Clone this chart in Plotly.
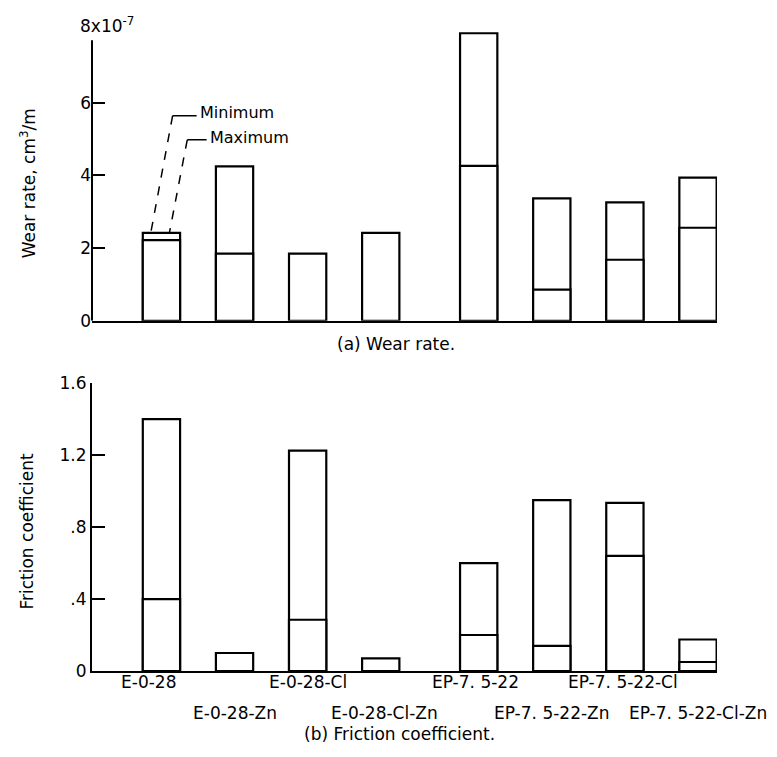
import plotly.graph_objects as go

categories = ["E-0-28", "E-0-28-Zn", "E-0-28-Cl", "E-0-28-Cl-Zn",
              "EP-7.5-22", "EP-7.5-22-Zn", "EP-7.5-22-Cl", "EP-7.5-22-Cl-Zn"]
category_labels = ["E-0-28", "E-0-28-Zn", "E-0-28-Cl", "E-0-28-Cl-Zn",
                   "EP-7. 5-22", "EP-7. 5-22-Zn", "EP-7. 5-22-Cl", "EP-7. 5-22-Cl-Zn"]
wear_max = [2.42, 4.25, 1.85, 2.42, 7.91, 3.37, 3.26, 3.94]
wear_min = [2.22, 1.85, None, None, 4.26, 0.86, 1.68, 2.56]
fric_max = [1.40, 0.10, 1.225, 0.07, 0.60, 0.95, 0.935, 0.175]
fric_min = [0.40, None, 0.285, None, 0.20, 0.14, 0.64, 0.05]
wear_ticks = [0, 2, 4, 6]
fric_ticks = [0, 0.4, 0.8, 1.2, 1.6]
fric_ticktext = ["0", ".4", ".8", "1.2", "1.6"]

FONT = "DejaVu Sans"
fs = 17
# group gap between E and EP series
xpos = [i + (0.34 if i >= 4 else 0) for i in range(len(categories))]
label_xshift = [-13, 0, 0, 4, -3, 0, -2, 0]
bw = 0.51
bar_style = dict(color="white", line=dict(color="black", width=2.2))

fig = go.Figure()
for ys in (wear_max, wear_min):
    fig.add_trace(go.Bar(x=xpos, y=ys, width=bw, marker=bar_style,
                         xaxis="x", yaxis="y", showlegend=False, hoverinfo="skip"))
for ys in (fric_max, fric_min):
    fig.add_trace(go.Bar(x=xpos, y=ys, width=bw, marker=bar_style,
                         xaxis="x2", yaxis="y2", showlegend=False, hoverinfo="skip"))

xr = [-0.95, 7.60]
axis_common = dict(linewidth=2, linecolor="black", zeroline=False, showgrid=False)
fig.update_layout(
    width=761, height=741,
    margin=dict(l=84, r=52, t=15, b=78),
    paper_bgcolor="white", plot_bgcolor="white",
    barmode="overlay",
    font=dict(family=FONT, size=fs, color="black"),
    xaxis=dict(domain=[0, 1], range=xr, anchor="y", showticklabels=False,
               ticks="", showline=True, **axis_common),
    yaxis=dict(domain=[0.5463, 1], range=[0, 8.0], anchor="x", showline=False,
               tickvals=wear_ticks, ticks="inside", ticklen=13, tickwidth=2,
               tickcolor="black", **axis_common),
    xaxis2=dict(domain=[0, 1], range=xr, anchor="y2", showticklabels=False,
                ticks="", showline=True, **axis_common),
    yaxis2=dict(domain=[0, 0.4491], range=[0, 1.6], anchor="x2", showline=True,
                tickvals=fric_ticks, ticktext=fric_ticktext, ticks="inside",
                ticklen=13, tickwidth=2, tickcolor="black", **axis_common),
)

ann = []
# category labels, staggered in two rows
for i, lab in enumerate(category_labels):
    ann.append(dict(x=xpos[i], xref="x2", y=0, yref="y2 domain", text=lab,
                    showarrow=False, xanchor="center", yanchor="middle",
                    xshift=label_xshift[i], yshift=-11 if i % 2 == 0 else -42))
ann += [
    dict(x=-0.0224, xref="paper", y=1.0077, yref="paper", text="8x10<sup>-7</sup>",
         showarrow=False, xanchor="left", yanchor="middle"),
    dict(x=-0.1024, xref="paper", y=0.7608, yref="paper", text="Wear rate, cm<sup>3</sup>/m",
         textangle=-90, showarrow=False, xanchor="center", yanchor="middle"),
    dict(x=-0.104, xref="paper", y=0.2176, yref="paper", text="Friction coefficient",
         textangle=-90, showarrow=False, xanchor="center", yanchor="middle"),
    dict(x=0.486, xref="paper", y=0.5108, yref="paper", text="(a) Wear rate.",
         showarrow=False, xanchor="center", yanchor="middle"),
    dict(x=0.492, xref="paper", y=-0.0988, yref="paper", text="(b) Friction coefficient.",
         showarrow=False, xanchor="center", yanchor="middle"),
    dict(x=0.499, xref="x", y=5.73, yref="y", text="Minimum", showarrow=False,
         xanchor="left", yanchor="middle", font=dict(size=16)),
    dict(x=0.636, xref="x", y=5.03, yref="y", text="Maximum", showarrow=False,
         xanchor="left", yanchor="middle", font=dict(size=16)),
]
fig.update_layout(annotations=ann)

# top y-axis line stops a little below the 8x10^-7 label
shapes = [dict(type="line", xref="paper", yref="y", x0=0, x1=0, y0=0, y1=7.72,
               line=dict(color="black", width=2))]
for (x0, y0), (x1, y1), (x2, y2) in [
    ((0.481, 5.644), (0.153, 5.644), (-0.148, 2.40)),
    ((0.618, 4.98), (0.353, 4.98), (0.107, 2.40)),
]:
    shapes.append(dict(type="line", xref="x", yref="y", x0=x0, y0=y0, x1=x1, y1=y1,
                       line=dict(color="black", width=1.5)))
    shapes.append(dict(type="line", xref="x", yref="y", x0=x1, y0=y1, x1=x2, y1=y2,
                       line=dict(color="black", width=1.5, dash="dash")))
fig.update_layout(shapes=shapes)

fig.write_html("out.html")
